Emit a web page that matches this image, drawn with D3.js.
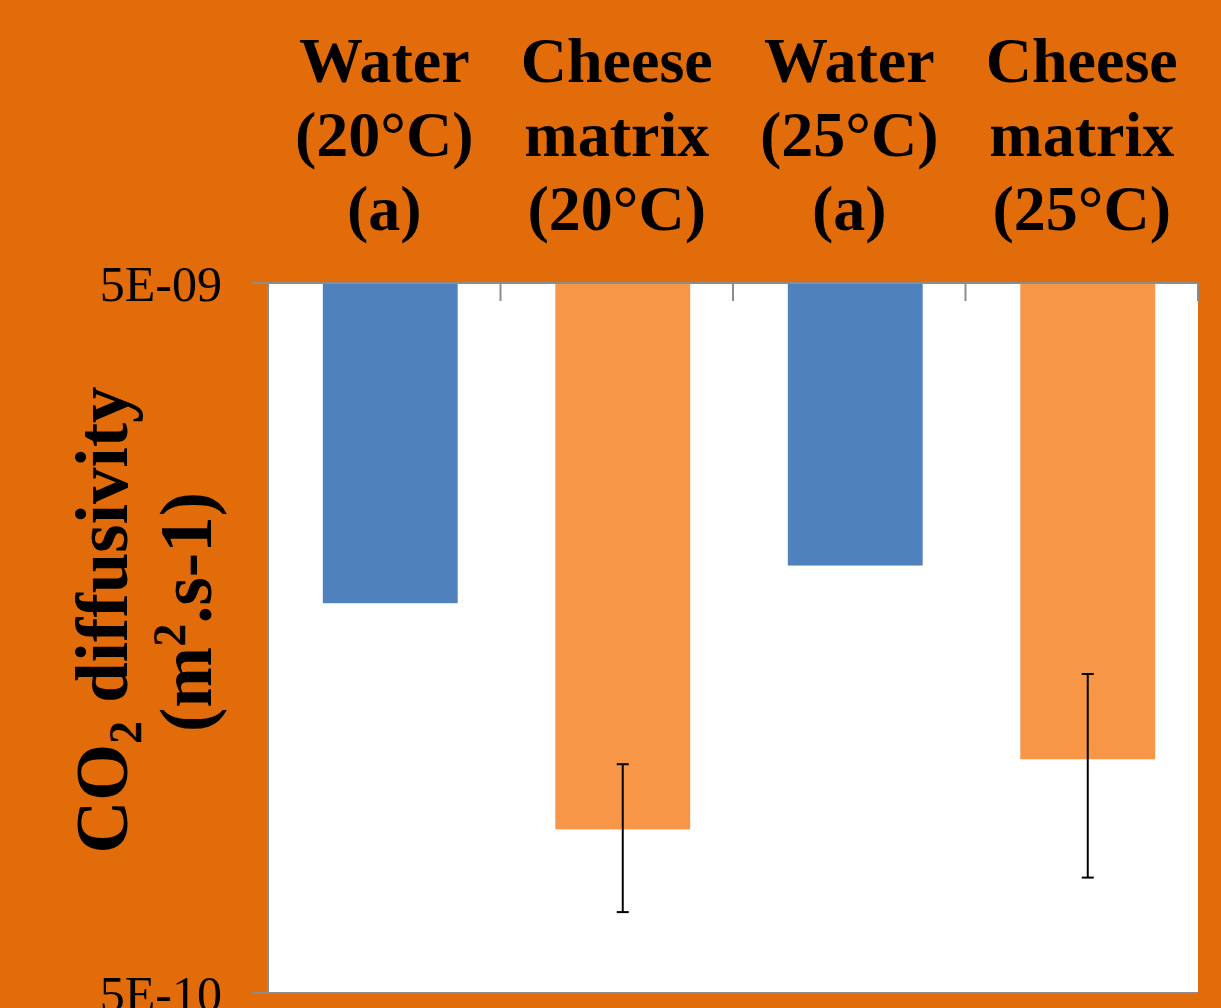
<!DOCTYPE html>
<html>
<head>
<meta charset="utf-8">
<script src="https://cdn.jsdelivr.net/npm/d3@7"></script>
<style>
  body { margin: 0; background: #E36C0A; }
  svg { display: block; }
</style>
</head>
<body>
<div id="chart-area"></div>
<script>
// data
var categories = ["Water (20°C) (a)", "Cheese matrix (20°C)", "Water (25°C) (a)", "Cheese matrix (25°C)"];
var labelLines = [["Water", "(20°C)", "(a)"], ["Cheese", "matrix", "(20°C)"], ["Water", "(25°C)", "(a)"], ["Cheese", "matrix", "(25°C)"]];
var diffusivity = [1.77e-9, 8.5e-10, 2.0e-9, 1.067e-9];
var errors = [null, 2.0e-10, null, 3.4e-10];
var barColors = ["#4F81BD", "#F79646", "#4F81BD", "#F79646"];
var yTicks = [5e-9, 5e-10];
var yTickLabels = ["5E-09", "5E-10"];

var width = 1221, height = 1008;
var plotLeft = 268, plotRight = 1198, plotTop = 283, plotBottom = 993;

var svg = d3.select("#chart-area").append("svg")
    .attr("width", width)
    .attr("height", height);

svg.append("rect")
    .attr("width", width).attr("height", height)
    .attr("fill", "#E36C0A");

var x = d3.scaleBand()
    .domain(categories)
    .range([plotLeft, plotRight])
    .paddingInner(0.42)
    .paddingOuter(0.21);

var y = d3.scaleLog()
    .domain([5e-9, 5e-10])
    .range([plotTop, plotBottom]);

// plot area
svg.append("rect")
    .attr("x", plotLeft).attr("y", plotTop)
    .attr("width", plotRight - plotLeft).attr("height", plotBottom - plotTop)
    .attr("fill", "white");

// bars hang from the top axis (5E-09)
svg.selectAll("rect.bar")
    .data(diffusivity)
    .enter()
    .append("rect")
        .attr("class", "bar")
        .attr("x", (d, i) => x(categories[i]) + 6)
        .attr("y", y(5e-9))
        .attr("width", x.bandwidth())
        .attr("height", d => y(d) - y(5e-9))
        .attr("fill", (d, i) => barColors[i]);

// error bars
var errData = diffusivity.map((d, i) => ({c: categories[i], v: d, e: errors[i]}))
    .filter(d => d.e !== null);

var errG = svg.selectAll("g.err")
    .data(errData)
    .enter()
    .append("g")
        .attr("class", "err")
        .attr("stroke", "black")
        .attr("stroke-width", 2);

errG.append("line")
    .attr("x1", d => x(d.c) + 6 + x.bandwidth() / 2)
    .attr("x2", d => x(d.c) + 6 + x.bandwidth() / 2)
    .attr("y1", d => y(d.v + d.e))
    .attr("y2", d => y(d.v - d.e));
[1, -1].forEach(s => {
    errG.append("line")
        .attr("x1", d => x(d.c) + 6 + x.bandwidth() / 2 - 6)
        .attr("x2", d => x(d.c) + 6 + x.bandwidth() / 2 + 6)
        .attr("y1", d => y(d.v + s * d.e))
        .attr("y2", d => y(d.v + s * d.e));
});

// left axis line + bottom line
svg.append("line")
    .attr("x1", plotLeft).attr("x2", plotLeft)
    .attr("y1", plotTop).attr("y2", plotBottom)
    .attr("stroke", "#8c8c8c").attr("stroke-width", 2);
svg.append("line")
    .attr("x1", plotLeft - 16).attr("x2", plotRight)
    .attr("y1", plotBottom).attr("y2", plotBottom)
    .attr("stroke", "#8c8c8c").attr("stroke-width", 2);

// y tick labels
svg.selectAll("text.ytick")
    .data(yTicks)
    .enter()
    .append("text")
        .attr("class", "ytick")
        .attr("x", 222)
        .attr("y", d => y(d))
        .attr("dy", "0.35em")
        .attr("text-anchor", "end")
        .attr("font-family", "Liberation Serif, Times New Roman, serif")
        .attr("font-size", 50)
        .attr("fill", "black")
        .text((d, i) => yTickLabels[i]);

// top category axis, ticks pointing down
svg.append("line")
    .attr("x1", plotLeft - 16).attr("x2", plotRight)
    .attr("y1", plotTop).attr("y2", plotTop)
    .attr("stroke", "#8c8c8c").attr("stroke-width", 2);
svg.selectAll("line.ctick")
    .data(categories.slice(1).concat(["end"]))
    .enter()
    .append("line")
        .attr("class", "ctick")
        .attr("x1", d => d === "end" ? plotRight : x(d) - x.step() * x.paddingInner() / 2)
        .attr("x2", d => d === "end" ? plotRight : x(d) - x.step() * x.paddingInner() / 2)
        .attr("y1", plotTop).attr("y2", plotTop + 18)
        .attr("stroke", "#8c8c8c").attr("stroke-width", 2);

// category labels above
var catText = svg.selectAll("text.cat")
    .data(categories)
    .enter()
    .append("text")
        .attr("class", "cat")
        .attr("x", d => x(d) + x.bandwidth() / 2)
        .attr("y", 82)
        .attr("text-anchor", "middle")
        .attr("font-family", "Liberation Serif, Times New Roman, serif")
        .attr("font-weight", "bold")
        .attr("font-size", 64)
        .attr("fill", "black");
catText.selectAll("tspan")
    .data((d, i) => labelLines[i])
    .enter()
    .append("tspan")
        .attr("x", function() { return this.parentNode.getAttribute("x"); })
        .attr("dy", (d, i) => i === 0 ? 0 : 74)
        .text(d => d);

// y axis title, two lines rotated
var title = svg.append("text")
    .attr("transform", "translate(127,620) rotate(-90)")
    .attr("text-anchor", "middle")
    .attr("font-family", "Liberation Serif, Times New Roman, serif")
    .attr("font-weight", "bold")
    .attr("font-size", 73)
    .attr("fill", "black");
var l1 = title.append("tspan").attr("x", 0).attr("y", 0);
l1.append("tspan").text("CO");
l1.append("tspan").attr("font-size", 46).attr("dy", 14).text("2");
l1.append("tspan").attr("dy", -14).text(" diffusivity");
var l2 = title.append("tspan").attr("x", 8).attr("y", 84);
l2.append("tspan").text("(m");
l2.append("tspan").attr("font-size", 46).attr("dy", -26).text("2");
l2.append("tspan").attr("dy", 26).text(".s-1)");
</script>
</body>
</html>
